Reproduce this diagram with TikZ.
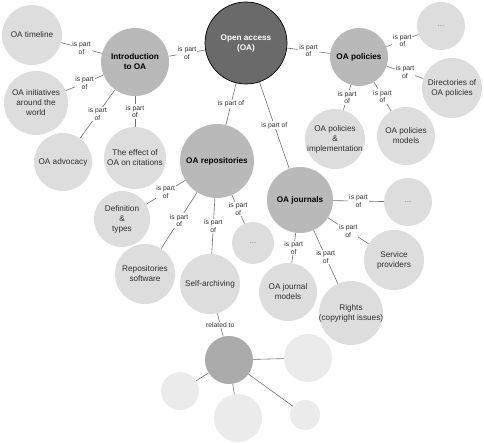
\documentclass[tikz,border=0pt]{standalone}
\usepackage{fontspec}
\setmainfont{Liberation Sans}

\definecolor{rootfill}{HTML}{6A6A6A}
\definecolor{hubfill}{HTML}{B9B9B9}
\definecolor{leaffill}{HTML}{DDDDDD}
\definecolor{subhubfill}{HTML}{ABABAB}
\definecolor{subleaffill}{HTML}{EBEBEB}
\definecolor{linkgray}{HTML}{6E6E6E}
\definecolor{txtgray}{HTML}{2E2E2E}

\begin{document}
\begin{tikzpicture}[
  x=1pt,y=-1pt,
  bub/.style={circle,inner sep=-4pt,align=center,minimum size=#1},
  root/.style={bub=#1,draw=black,line width=0.7pt,fill=rootfill,text=white,font=\fontsize{8.2}{10}\selectfont\bfseries},
  hub/.style={bub=#1,fill=hubfill,font=\fontsize{8.2}{10}\selectfont\bfseries},
  leaf/.style={bub=#1,fill=leaffill,text=txtgray,font=\fontsize{8.2}{10}\selectfont},
  dots/.style={leaf=#1,text=gray},
  subhub/.style={bub=#1,fill=subhubfill},
  subleaf/.style={bub=#1,fill=subleaffill},
  link/.style={draw=linkgray,line width=0.6pt},
  lbl/.style={fill=white,inner sep=0.8pt,align=center,text=txtgray,font=\fontsize{6.8}{7.6}\selectfont}
]
\useasboundingbox (0,0) rectangle (484,443);

% centre and the four main topics
\node[root=82pt] (oa) at (246,43) {Open access\\(OA)};
\node[hub=68pt] (intro) at (135,62) {Introduction\\to OA};
\node[hub=58pt] (pol) at (359,57) {OA policies};
\node[hub=74pt] (repo) at (217,161) {OA repositories};
\node[hub=66pt] (jour) at (300,200) {OA journals};

% sub topics
\node[leaf=60pt] (timeline) at (32,35) {OA timeline};
\node[leaf=64pt] (initiatives) at (36,103) {OA initiatives\\around the\\world};
\node[leaf=58pt] (advocacy) at (63,162) {OA advocacy};
\node[leaf=62pt] (effect) at (135,158) {The effect of\\OA on citations};
\node[dots=48pt] (poldots) at (441,26) {...};
\node[leaf=60pt] (directories) at (452,88) {Directories of\\OA policies};
\node[leaf=60pt] (polimpl) at (335,139) {OA policies\\\&\\implementation};
\node[leaf=58pt] (polmod) at (406,136) {OA policies\\models};
\node[leaf=56pt] (definition) at (122,219) {Definition\\\&\\types};
\node[leaf=60pt] (software) at (145,274) {Repositories\\software};
\node[leaf=60pt] (selfarch) at (210,284) {Self-archiving};
\node[dots=42pt] (repodots) at (253,243) {...};
\node[dots=48pt] (jourdots) at (408,202) {...};
\node[leaf=60pt] (service) at (394,260) {Service\\providers};
\node[leaf=58pt] (jourmod) at (288,292) {OA journal\\models};
\node[leaf=64pt] (rights) at (351,313) {Rights\\(copyright issues)};

% related group below self-archiving
\node[subhub=48pt] (rel) at (229,360) {};
\node[subleaf=48pt] (rel1) at (308,358) {};
\node[subleaf=38pt] (rel2) at (180,391) {};
\node[subleaf=48pt] (rel3) at (238,418) {};
\node[subleaf=30pt] (rel4) at (305,415) {};

\draw[link] (intro) -- node[lbl]{is part\\of} (oa);
\draw[link] (pol) -- node[lbl]{is part\\of} (oa);
\draw[link] (repo) -- node[lbl]{is part of} (oa);
\draw[link] (jour) -- node[lbl]{is part of} (oa);

\draw[link] (timeline) -- node[lbl]{is part\\of} (intro);
\draw[link] (initiatives) -- node[lbl]{is part\\of} (intro);
\draw[link] (advocacy) -- node[lbl]{is part\\of} (intro);
\draw[link] (effect) -- node[lbl]{is part\\of} (intro);

\draw[link] (poldots) -- node[lbl]{is part\\of} (pol);
\draw[link] (directories) -- node[lbl]{is part\\of} (pol);
\draw[link] (polimpl) -- node[lbl]{is part\\of} (pol);
\draw[link] (polmod) -- node[lbl]{is part\\of} (pol);

\draw[link] (definition) -- node[lbl]{is part\\of} (repo);
\draw[link] (software) -- node[lbl]{is part\\of} (repo);
\draw[link] (selfarch) -- node[lbl]{is part\\of} (repo);
\draw[link] (repodots) -- node[lbl]{is part\\of} (repo);

\draw[link] (jourdots) -- node[lbl]{is part\\of} (jour);
\draw[link] (service) -- node[lbl]{is part\\of} (jour);
\draw[link] (jourmod) -- node[lbl]{is part\\of} (jour);
\draw[link] (rights) -- node[lbl]{is part\\of} (jour);

\draw[link] (selfarch) -- node[lbl]{related to} (rel);
\draw[link] (rel) -- (rel1);
\draw[link] (rel) -- (rel2);
\draw[link] (rel) -- (rel3);
\draw[link] (rel) -- (rel4);
\end{tikzpicture}
\end{document}
